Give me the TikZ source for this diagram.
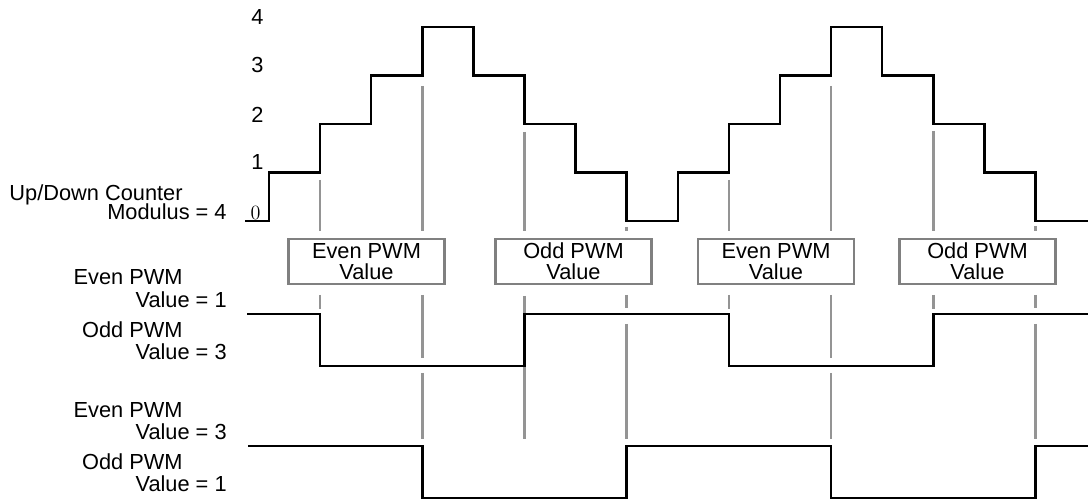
\documentclass[tikz,border=0pt]{standalone}
\usepackage{fontspec}
\setsansfont{Liberation Sans}

\begin{document}
\begin{tikzpicture}[
        wave/.style={line width=1.3pt, line join=miter},
        guide/.style={draw=black!42, line width=1.4pt},
        valbox/.style={rectangle, draw=black!50, line width=1.4pt, minimum width=3.12cm, minimum height=0.90cm, align=center, inner sep=0pt, font=\sffamily\fontsize{12.4}{11.9}\selectfont},
        lbl/.style={anchor=base east, inner sep=0pt, font=\sffamily\fontsize{12.4}{14}\selectfont},
        lvl/.style={anchor=base, inner sep=0pt, font=\sffamily\fontsize{12.4}{14}\selectfont}
    ]
        \useasboundingbox (0,0) rectangle (21.76,10.02);

        % guide lines at every other count
        \foreach \x/\a in {6.40/6.42, 8.45/8.30, 10.49/7.38, 12.53/5.48, 14.58/6.42, 16.62/8.30, 18.67/7.40, 20.71/5.50}
            \draw[guide] (\x,\a) -- (\x,5.40);
        \foreach \x in {6.40, 14.58, 18.67}
            \draw[guide] (\x,4.12) -- (\x,3.84);
        \foreach \x in {8.45, 16.62} {
            \draw[guide] (\x,4.12) -- (\x,2.86);
            \draw[guide] (\x,2.56) -- (\x,1.24);
        }
        \foreach \x in {12.53, 20.71} {
            \draw[guide] (\x,4.12) -- (\x,3.86);
            \draw[guide] (\x,3.54) -- (\x,1.24);
        }
        \draw[guide] (10.49,4.10) -- (10.49,1.24);

        % counter levels
        \node[lvl] (n4) at (5.15,9.52) {4};
        \node[lvl] (n3) at (5.15,8.56) {3};
        \node[lvl] (n2) at (5.15,7.56) {2};
        \node[lvl] (n1) at (5.15,6.62) {1};
        \node[anchor=base, inner sep=0pt, font=\rmfamily\fontsize{11.5}{13}\selectfont] (n0) at (5.11,5.62) {0};

        \node[lbl] (cnt) at (3.66,6.00) {Up/Down Counter};
        \node[lbl] (mod) at (4.54,5.62) {Modulus = 4};

        \draw[wave] (4.90,5.60) -- (5.38,5.60) |- (6.40,6.57) |- (7.42,7.54) |- (8.45,8.51)
            |- (9.47,9.48) |- (10.49,8.51) |- (11.51,7.54) |- (12.53,6.57) |- (13.56,5.60)
            |- (14.58,6.57) |- (15.60,7.54) |- (16.62,8.51) |- (17.64,9.48) |- (18.67,8.51)
            |- (19.69,7.54) |- (20.71,6.57) |- (21.76,5.60);

        % value boxes
        \node[valbox] (ev1) at (7.33,4.79) {Even PWM\\Value};
        \node[valbox] (od1) at (11.47,4.79) {Odd PWM\\Value};
        \node[valbox] (ev2) at (15.52,4.79) {Even PWM\\Value};
        \node[valbox] (od2) at (19.55,4.79) {Odd PWM\\Value};

        % first pair
        \node[lbl] (e1a) at (3.66,4.32) {Even PWM};
        \node[lbl] (e1b) at (4.54,3.86) {Value = 1};
        \node[lbl] (o1a) at (3.66,3.26) {Odd PWM};
        \node[lbl] (o1b) at (4.54,2.82) {Value = 3};
        \draw[wave] (4.94,3.74) -- (6.40,3.74) -- (6.40,2.70) -- (10.49,2.70) -- (10.49,3.74)
            -- (14.58,3.74) -- (14.58,2.70) -- (18.67,2.70) -- (18.67,3.74) -- (21.76,3.74);

        % second pair
        \node[lbl] (e2a) at (3.66,1.66) {Even PWM};
        \node[lbl] (e2b) at (4.54,1.22) {Value = 3};
        \node[lbl] (o2a) at (3.66,0.62) {Odd PWM};
        \node[lbl] (o2b) at (4.54,0.18) {Value = 1};
        \draw[wave] (4.96,1.10) -- (8.45,1.10) -- (8.45,0.06) -- (12.53,0.06) -- (12.53,1.10)
            -- (16.62,1.10) -- (16.62,0.06) -- (20.71,0.06) -- (20.71,1.10) -- (21.76,1.10);
    \end{tikzpicture}
\end{document}
